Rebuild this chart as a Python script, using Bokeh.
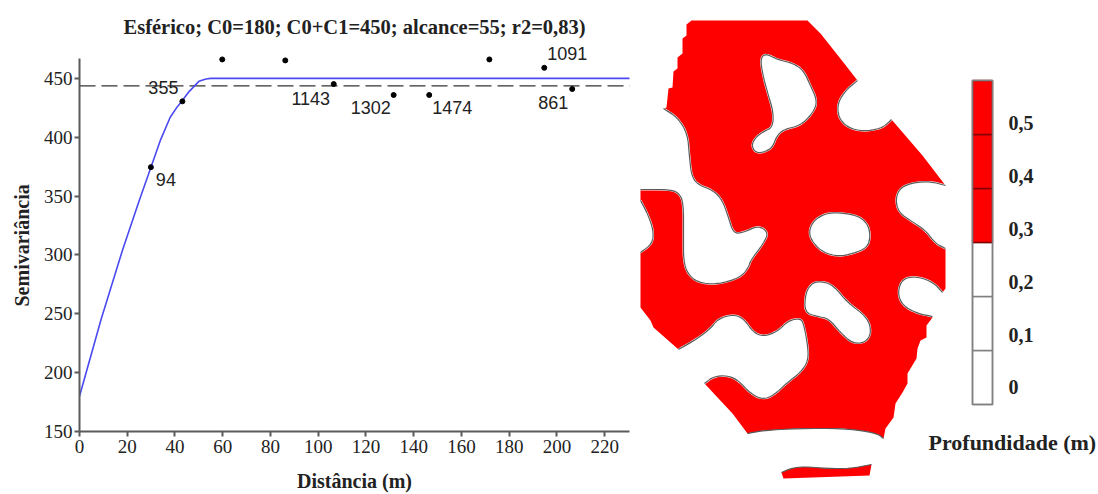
from bokeh.plotting import figure
from bokeh.layouts import row, column
from bokeh.models import Range1d, FixedTicker, ColumnDataSource, Title
from bokeh.core.properties import value
from bokeh.embed import file_html
from bokeh.resources import INLINE

# ---- semivariogram ----
TITLE = "Esférico; C0=180; C0+C1=450; alcance=55; r2=0,83)"
X_LABEL = "Distância (m)"
Y_LABEL = "Semivariância"
X_TICKS = [0, 20, 40, 60, 80, 100, 120, 140, 160, 180, 200, 220]
Y_TICKS = [150, 200, 250, 300, 350, 400, 450]
CURVE_X = [0, 9, 18, 25, 30, 34, 38, 41, 43, 46, 50, 53, 55, 231]
CURVE_Y = [180, 245, 304, 346, 375, 398, 417, 426, 431, 439, 447.5, 449.5, 450, 450]
SILL_X = [0, 231]
SILL_Y = [443.6, 443.6]
POINT_X = [29.9, 43.1, 59.8, 86.2, 106.5, 131.6, 146.5, 171.7, 194.7, 206.4]
POINT_Y = [374.6, 430.5, 466.1, 465.3, 445.2, 435.9, 435.9, 466.1, 459.0, 441.0]
LABEL_X = [29.9, 43.1, 106.5, 131.6, 146.5, 194.7, 206.4]
LABEL_Y = [374.6, 430.5, 445.2, 435.9, 435.9, 459.0, 441.0]
LABEL_TEXT = ["94", "355", "1143", "1302", "1474", "1091", "861"]
LABEL_DX = [15, -19, -23, -23, 23, 23, -19]
LABEL_DY = [12, -14, 14, 13, 13, -14, 14]

# ---- map outlines, in picture pixels ----
MAP_HULL = [(691,20),(807,20),(820,33),(843,62),(857,80),(891,119),(922,155),(945,185),(945,288),(942,292),
            (932,317),(926,325),(926,337),(920,340),(917,348),(916,358),(913,363),(907,373),(907,383),(902,392),
            (895,403),(893,417),(885,428),(883,438),(878,434),(867,431),(843,428),(797,428),(763,430),(747,433),
            (732,413),(704,383),(678,349),(653,327),(650,320),(640,307),(640,189),(663,108),(666,107),(668,88),
            (672,87),(673,71),(677,68),(677,57),(682,53),(682,38),(686,35),(686,24)]
HOLE_A = [(765,53),(760,58),(762,73),(767,92),(773,112),(772,127),(763,131),(755,137),(751,145),(755,152),
          (763,152),(772,147),(776,136),(783,129),(800,125),(812,113),(817,101),(810,85),(803,70),(793,63),(777,59)]
HOLE_C = [(808,232),(813,220),(825,213),(838,212),(857,215),(867,223),(870,235),(867,247),(853,253),(838,256),(823,252),(813,243)]
HOLE_H = [(812,282),(805,292),(804,312),(817,316),(828,318),(840,332),(852,343),(865,342),(871,332),(867,317),(847,302),(833,285),(822,281)]
NOTCH_B = [(857,80),(845,90),(837,103),(838,117),(847,127),(863,131),(880,128),(887,123),(891,119)]
NOTCH_D = [(945,185),(930,181),(913,182),(900,187),(895,198),(898,212),(913,222),(925,230),(935,243),(945,248)]
NOTCH_E = [(663,108),(677,117),(687,133),(689,157),(691,175),(697,184),(713,190),(722,200),(728,217),(733,233),
           (743,232),(758,225),(768,232),(763,243),(750,260),(748,267),(740,277),(717,284),(697,282),(687,273),
           (683,260),(683,237),(683,202),(678,192),(668,189),(640,189)]
NOTCH_F = [(640,200),(647,213),(653,230),(652,243),(640,252)]
NOTCH_G = [(678,349),(697,338),(710,328),(718,318),(733,314),(743,318),(753,332),(763,336),(777,331),(788,320),
           (800,318),(803,323),(807,343),(808,360),(800,372),(787,382),(773,395),(762,399),(750,393),(738,380),
           (727,375),(713,376),(704,383)]
NOTCH_I = [(942,292),(933,282),(917,276),(902,278),(897,292),(902,305),(917,313),(932,316)]
BOTTOM_ARC = [(747,433),(763,430),(797,428),(843,428),(867,431),(878,434),(883,438)]
STRIP_TOP = [(781,472),(790,468),(803,466),(827,468),(850,468),(871,464)]
STRIP_REST = [(869,475),(783,478)]

# ---- depth scale ----
DEPTH_LOW = [0.0, 0.1, 0.2, 0.3, 0.4, 0.5]
DEPTH_HIGH = [0.1, 0.2, 0.3, 0.4, 0.5, 0.6]
DEPTH_FILL = ["#ffffff", "#ffffff", "#ffffff", "#ff0000", "#ff0000", "#ff0000"]
DEPTH_EDGE = ["#808080", "#808080", "#808080", "#800000", "#800000", "#800000"]
DEPTH_TICKS = [0.0, 0.1, 0.2, 0.3, 0.4, 0.5]
DEPTH_TEXT = ["0", "0,1", "0,2", "0,3", "0,4", "0,5"]
DEPTH_DY = [-18, -16, -15, -14, -13, -12]
DEPTH_TITLE = "Profundidade (m)"

SERIF = "Liberation Serif"
AXIS = "#5a5a5a"
INK = "#222222"

# ---- left figure ----
p = figure(width=636, height=494, output_backend="svg", toolbar_location=None,
           x_range=Range1d(0, 230.4), y_range=Range1d(150, 482.2),
           min_border_left=79, min_border_right=7, min_border_top=40, min_border_bottom=62,
           outline_line_color=None, background_fill_color="white", border_fill_color="white")
p.grid.visible = False
p.title = Title(text=TITLE, align="center", text_font=SERIF, text_font_size="20.5px",
                text_font_style="bold", text_color=INK, standoff=5)
for ax, ticks in ((p.xaxis[0], X_TICKS), (p.yaxis[0], Y_TICKS)):
    ax.ticker = FixedTicker(ticks=ticks)
    ax.minor_tick_line_color = None
    ax.major_tick_in = 0
    ax.major_tick_out = 5
    ax.major_tick_line_color = AXIS
    ax.major_tick_line_width = 2
    ax.axis_line_color = AXIS
    ax.axis_line_width = 2
    ax.major_label_text_font = SERIF
    ax.major_label_text_font_size = "19px"
    ax.major_label_text_color = INK
p.yaxis[0].bounds = (150, 467.3)
p.yaxis[0].major_label_standoff = 2
p.xaxis[0].major_label_standoff = 3
p.xaxis[0].axis_label = X_LABEL
p.xaxis[0].axis_label_text_font = SERIF
p.xaxis[0].axis_label_text_font_size = "20px"
p.xaxis[0].axis_label_text_font_style = "bold"
p.xaxis[0].axis_label_text_color = INK
p.xaxis[0].axis_label_standoff = 14
p.add_layout(Title(text=Y_LABEL, align="left", offset=125, standoff=15, text_font=SERIF,
                   text_font_size="20px", text_font_style="bold", text_color=INK), "left")

p.line(SILL_X, SILL_Y, line_color="#333333", line_width=1.2, line_dash="16 6")
p.line(CURVE_X, CURVE_Y, line_color="#4a4af0", line_width=1.6)
p.scatter(POINT_X, POINT_Y, size=5, color="black")
src = ColumnDataSource(dict(x=LABEL_X, y=LABEL_Y, t=LABEL_TEXT, dx=LABEL_DX, dy=LABEL_DY))
p.text("x", "y", text="t", x_offset="dx", y_offset="dy", source=src, text_align="center",
       text_baseline="middle", text_font=value("Liberation Sans"), text_font_size="18px", text_color=INK)

# ---- right figure: axes are picture pixels ----
m = figure(width=462, height=494, output_backend="svg", toolbar_location=None,
           x_range=Range1d(636, 1098), y_range=Range1d(494, 0),
           min_border=0, outline_line_color=None, background_fill_color="white", border_fill_color="white")
m.axis.visible = False
m.grid.visible = False
m.extra_y_ranges = {"depth": Range1d(-(494 - 404) / 540, 404 / 540)}


def xs(pts):
    return [a for a, _ in pts]


def ys(pts):
    return [b for _, b in pts]


def rounded(pts, closed=False, passes=2):
    """Round the corners of a traced outline (corner cutting)."""
    out = list(pts)
    for _ in range(passes):
        ring = out + out[:1] if closed else out
        cut = [] if closed else [ring[0]]
        for (x0, y0), (x1, y1) in zip(ring, ring[1:]):
            cut.append((0.75 * x0 + 0.25 * x1, 0.75 * y0 + 0.25 * y1))
            cut.append((0.25 * x0 + 0.75 * x1, 0.25 * y0 + 0.75 * y1))
        if not closed:
            cut.append(ring[-1])
        out = cut
    return out


HOLES = [rounded(h, closed=True) for h in (HOLE_A, HOLE_C, HOLE_H)]
NOTCHES = [rounded(n) for n in (NOTCH_B, NOTCH_D, NOTCH_E, NOTCH_F, NOTCH_G, NOTCH_I)]
EDGES = [rounded(e) for e in (BOTTOM_ARC, STRIP_TOP)]

m.patch(xs(MAP_HULL), ys(MAP_HULL), fill_color="#ff0000", line_color=None)
strip = EDGES[1] + STRIP_REST
m.patch(xs(strip), ys(strip), fill_color="#ff0000", line_color=None)
for shape in HOLES + NOTCHES:
    m.patch(xs(shape), ys(shape), fill_color="white", line_color="white", line_width=2)
for hole in HOLES:
    m.line(xs(hole + hole[:1]), ys(hole + hole[:1]), line_color=AXIS, line_width=1.2, line_join="round")
for arc in NOTCHES + EDGES:
    m.line(xs(arc), ys(arc), line_color=AXIS, line_width=1.2, line_join="round")

m.quad(left=972, right=992, bottom=DEPTH_LOW, top=DEPTH_HIGH, fill_color=DEPTH_FILL, line_color=DEPTH_EDGE,
       line_width=1.5, y_range_name="depth")
m.quad(left=972, right=992, bottom=DEPTH_LOW[0], top=DEPTH_HIGH[-1], fill_color=None, line_color="#808080",
       line_width=1.5, y_range_name="depth")
src2 = ColumnDataSource(dict(y=DEPTH_TICKS, t=DEPTH_TEXT, dy=DEPTH_DY))
m.text(1008, "y", text="t", y_offset="dy", source=src2, y_range_name="depth", text_align="left",
       text_baseline="middle", text_font=value(SERIF), text_font_style="bold", text_font_size="20px",
       text_color=INK)
m.text([928], [442], text=[DEPTH_TITLE], text_align="left", text_baseline="middle", text_font=value(SERIF),
       text_font_style="bold", text_font_size="22px", text_color=INK)

layout = row(p, column(m), spacing=0)
open("out.html", "w").write(file_html(layout, INLINE))
